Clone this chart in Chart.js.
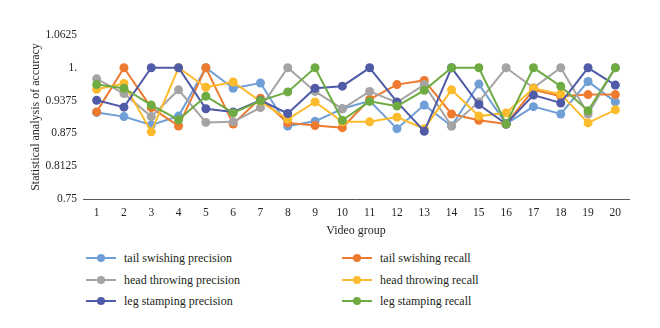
<!DOCTYPE html>
<html>
<head>
<meta charset="utf-8">
<script src="https://cdn.jsdelivr.net/npm/chart.js@4"></script>
<style>
  body { margin: 0; background: #fff; }
  #wrap { position: relative; width: 660px; height: 328px; }
  #box { position: absolute; left: 0; top: 0; width: 660px; height: 245px; }
  .leg { position: absolute; font: 12px "Liberation Serif", serif; color: #231f20; white-space: nowrap; }
  .leg .ln { position: absolute; left: 0; top: 7px; width: 30px; height: 2px; }
  .leg .dot { position: absolute; left: 11px; top: 4px; width: 8px; height: 8px; border-radius: 50%; }
  .leg span { position: absolute; left: 38px; top: 0; line-height: 16px; }
</style>
</head>
<body>
<div id="wrap">
  <div id="box"><canvas id="chart"></canvas></div>
</div>
<script>
// grupos de video 1..20
const groups = ['1','2','3','4','5','6','7','8','9','10','11','12','13','14','15','16','17','18','19','20'];
const yTicks = [0.75, 0.8125, 0.875, 0.9375, 1, 1.0625];

const tailPrecision = [0.915, 0.907, 0.891, 0.908, 1.0, 0.961, 0.971, 0.889, 0.898, 0.922, 0.937, 0.884, 0.929, 0.889, 0.969, 0.893, 0.926, 0.912, 0.974, 0.935];
const tailRecall = [0.916, 1.0, 0.924, 0.889, 1.0, 0.893, 0.942, 0.895, 0.890, 0.886, 0.940, 0.968, 0.976, 0.912, 0.900, 0.893, 0.958, 0.946, 0.949, 0.949];
const headPrecision = [0.979, 0.951, 0.907, 0.958, 0.896, 0.897, 0.924, 1.0, 0.955, 0.922, 0.955, 0.934, 0.968, 0.889, 0.935, 1.0, 0.962, 1.0, 0.912, 1.0];
const headRecall = [0.959, 0.970, 0.878, 1.0, 0.963, 0.973, 0.936, 0.902, 0.935, 0.897, 0.897, 0.906, 0.884, 0.958, 0.908, 0.914, 0.961, 0.950, 0.895, 0.920];
const legPrecision = [0.938, 0.925, 1.0, 1.0, 0.922, 0.916, 0.938, 0.913, 0.961, 0.965, 1.0, 0.935, 0.879, 1.0, 0.930, 0.893, 0.948, 0.933, 1.0, 0.967];
const legRecall = [0.968, 0.961, 0.929, 0.901, 0.946, 0.914, 0.937, 0.954, 1.0, 0.900, 0.936, 0.927, 0.957, 1.0, 1.0, 0.893, 1.0, 0.965, 0.918, 1.0];

const series = [
  { label: 'tail swishing precision', data: tailPrecision, color: '#6f9fd6' },
  { label: 'tail swishing recall', data: tailRecall, color: '#ee7a30' },
  { label: 'head throwing precision', data: headPrecision, color: '#a5a3a3' },
  { label: 'head throwing recall', data: headRecall, color: '#fbbb2c' },
  { label: 'leg stamping precision', data: legPrecision, color: '#4f5ba7' },
  { label: 'leg stamping recall', data: legRecall, color: '#6eab43' }
];

const serif = '"Liberation Serif", serif';

new Chart(document.getElementById('chart'), {
  type: 'line',
  data: {
    labels: groups,
    datasets: series.map((s, i) => ({
      label: s.label,
      data: s.data,
      borderColor: s.color,
      backgroundColor: s.color,
      pointBackgroundColor: s.color,
      pointBorderColor: s.color,
      borderWidth: 2,
      pointRadius: 4.5,
      pointBorderWidth: 0,
      tension: 0,
      order: series.length - 1 - i
    }))
  },
  options: {
    responsive: true,
    maintainAspectRatio: false,
    animation: false,
    layout: { padding: { top: 35, right: 31, left: 0, bottom: 0 } },
    plugins: { legend: { display: false }, tooltip: { enabled: false } },
    scales: {
      x: {
        offset: true,
        grid: { display: false, drawTicks: false },
        border: { display: true, color: '#595959', width: 1 },
        ticks: { color: '#231f20', font: { family: serif, size: 11.5 }, padding: 7, maxRotation: 0 },
        title: { display: true, text: 'Video group', color: '#231f20', font: { family: serif, size: 12 }, padding: { top: 0, bottom: 7 } },
        afterFit: scale => { scale.height = 46; }
      },
      y: {
        min: 0.75,
        max: 1.0625,
        afterBuildTicks: scale => { scale.ticks = yTicks.map(v => ({ value: v })); },
        grid: { display: false, drawTicks: false },
        border: { display: false },
        ticks: {
          color: '#231f20',
          font: { family: serif, size: 11.5 },
          padding: 6,
          callback: v => (v === 1 ? '1.' : String(v))
        },
        title: { display: true, text: 'Statistical analysis of accuracy', color: '#231f20', font: { family: serif, size: 12 }, padding: { top: 29, bottom: 0 } },
        afterFit: scale => { scale.width = 83; }
      }
    }
  }
});

// leyenda en dos columnas
const wrap = document.getElementById('wrap');
series.forEach((s, i) => {
  const col = i % 2, row = Math.floor(i / 2);
  const item = document.createElement('div');
  item.className = 'leg';
  item.style.left = (col === 0 ? 86 : 342) + 'px';
  item.style.top = (250 + row * 21.5) + 'px';
  item.innerHTML = `<div class="ln" style="background:${s.color}"></div><div class="dot" style="background:${s.color}"></div><span>${s.label}</span>`;
  wrap.appendChild(item);
});
</script>
</body>
</html>
